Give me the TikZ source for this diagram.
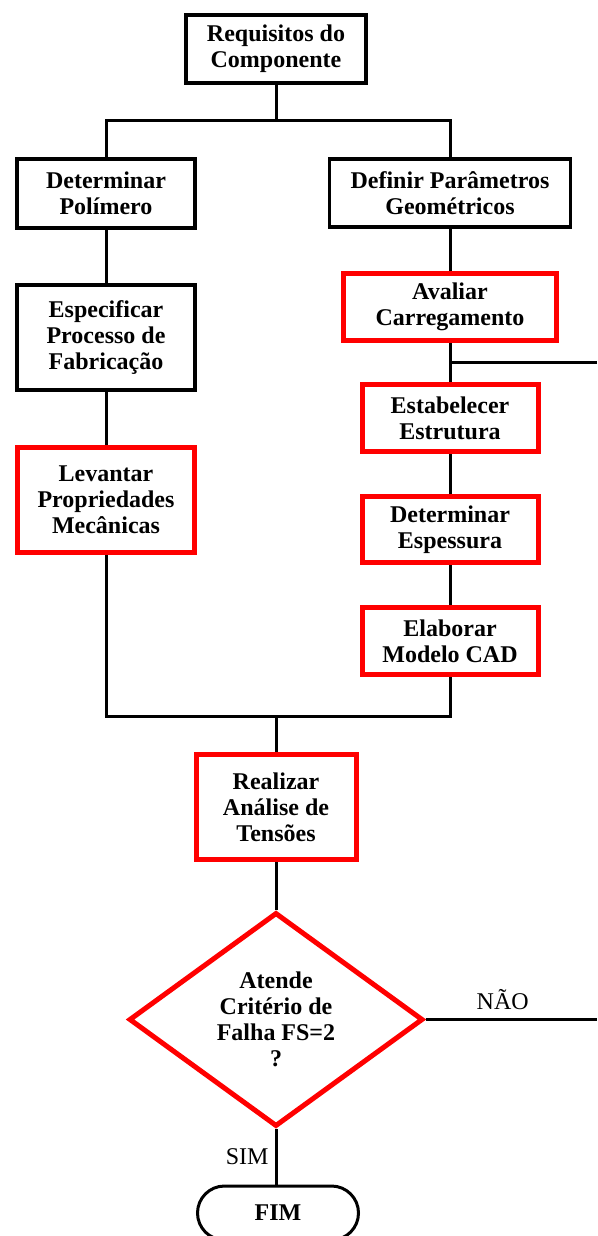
\documentclass[tikz,border=0pt]{standalone}
\usepackage{fontspec}
\setmainfont{Liberation Serif}
\usetikzlibrary{shapes.geometric,shapes.misc}
\begin{document}
\begin{tikzpicture}[x=1pt,y=-1pt,
  txt/.style={font=\fontsize{24}{26}\selectfont\bfseries, align=center, inner sep=0pt},
  bbox/.style={txt, draw=black, line width=3.5pt, rectangle},
  rbox/.style={txt, draw=red, line width=5pt, rectangle},
  conn/.style={draw=black, line width=3pt},
  lab/.style={font=\fontsize{24}{26}\selectfont, inner sep=0pt}]
\useasboundingbox (0,0) rectangle (597,1236);

\node[bbox, minimum width=180pt, minimum height=68pt] (req) at (276,49) {Requisitos do\\Componente};
\node[bbox, minimum width=178pt, minimum height=69pt] (pol) at (106,193.5) {Determinar\\Polímero};
\node[bbox, minimum width=178pt, minimum height=105pt] (fab) at (106,337.5) {Especificar\\Processo de\\Fabricação};
\node[rbox, minimum width=177pt, minimum height=105pt] (mec) at (106,500) {Levantar\\Propriedades\\Mecânicas};
\node[bbox, minimum width=241pt, minimum height=68pt] (geo) at (450,193) {Definir Parâmetros\\Geométricos};
\node[rbox, minimum width=213pt, minimum height=67pt] (car) at (450,307) {Avaliar\\Carregamento};
\node[rbox, minimum width=176pt, minimum height=67pt] (est) at (450,418) {Estabelecer\\Estrutura};
\node[rbox, minimum width=176pt, minimum height=66pt] (esp) at (450,529.5) {Determinar\\Espessura};
\node[rbox, minimum width=176pt, minimum height=67pt] (cad) at (450,641) {Elaborar\\Modelo CAD};
\node[rbox, minimum width=160pt, minimum height=105pt] (ten) at (276,807) {Realizar\\Análise de\\Tensões};
\node[diamond, draw=red, line width=5pt, minimum width=294pt, minimum height=214pt, inner sep=0pt] (dec) at (276,1019.5) {};
\node[txt] (dect) at (dec.center) {Atende\\Critério de\\Falha FS=2\\?};
\node[txt, rounded rectangle, draw=black, line width=3pt, minimum width=161pt, minimum height=54pt] (fim) at (278,1213) {FIM};

\coordinate (jt) at (276,121);
\coordinate (br) at (597,362);
\coordinate (jb) at (276,716);
\coordinate (nr) at (597,1019.5);

\draw[conn] (req.south) -- (jt);
\draw[conn] (pol.north) -- (pol.north |- jt) -- (geo.north |- jt) -- (geo.north);
\draw[conn] (pol.south) -- (fab.north);
\draw[conn] (fab.south) -- (mec.north);
\draw[conn] (geo.south) -- (car.north);
\draw[conn] (car.south) -- (est.north);
\draw[conn] (car.south |- br) -- (br);
\draw[conn] (est.south) -- (esp.north);
\draw[conn] (esp.south) -- (cad.north);
\draw[conn] (mec.south) -- (mec.south |- jb) -- (cad.south |- jb) -- (cad.south);
\draw[conn] (jb) -- (ten.north);
\draw[conn] (ten.south) -- (dec.north);
\draw[conn] (dec.east) -- node[lab, above=8.5pt, pos=0.45] {NÃO} (nr);
\draw[conn] (dec.south) -- node[lab, left=6pt] {SIM} (fim.north -| dec.south);
\end{tikzpicture}
\end{document}
